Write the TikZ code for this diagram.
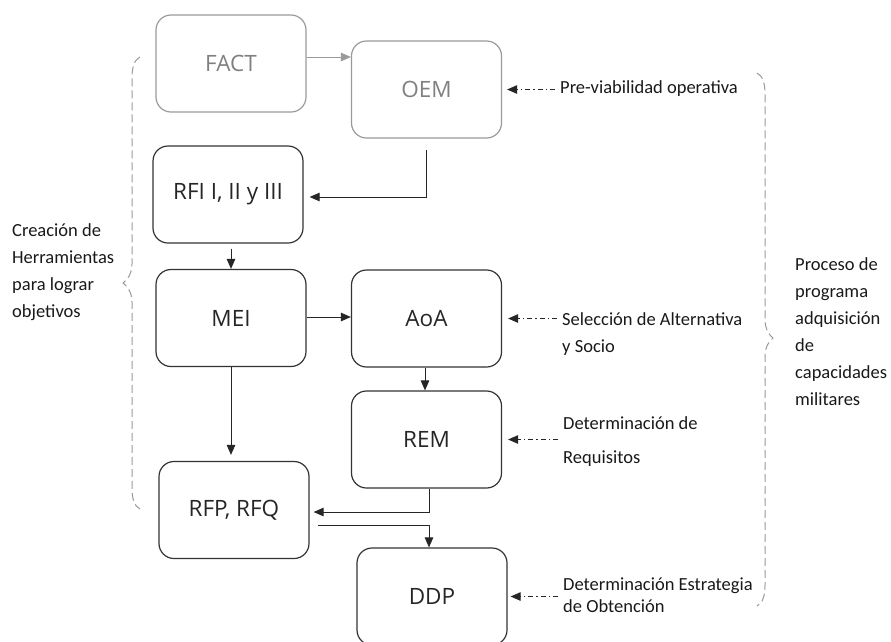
\documentclass[tikz,border=0pt]{standalone}
\usepackage{fontspec}
\setmainfont{Carlito}
\newfontfamily\boxfont{Open Sans}
\usetikzlibrary{arrows.meta}
\definecolor{softgray}{HTML}{9A9A9A}
\definecolor{labelgray}{HTML}{808080}
\definecolor{bracegray}{HTML}{999999}
\tikzset{
  stage/.style={draw=black!80, line width=1.2pt, rounded corners=15pt,
    minimum width=150pt, minimum height=97pt, inner sep=0pt,
    font=\boxfont\fontsize{22.5}{26}\selectfont, text=black!85},
  faded/.style={stage, draw=softgray, text=labelgray},
  flow/.style={line width=1pt, draw=black!85,
    -{Triangle[length=10pt,width=8.5pt]}},
  fadedflow/.style={flow, draw=softgray, -{Triangle[length=10pt,width=8.5pt,fill=softgray]}},
  note/.style={font=\fontsize{18.5}{27}\selectfont, align=left, inner sep=2pt,
    anchor=base west, text=black!90},
  pointer/.style={line width=0.9pt, draw=black!85,
    dash pattern=on 5pt off 3pt on 1.5pt off 3pt,
    -{Triangle[length=10pt,width=8.5pt]}},
  brace/.style={draw=bracegray, line width=1pt, dash pattern=on 8pt off 4pt}
}
\begin{document}
\begin{tikzpicture}[x=1pt, y=-1pt]
\useasboundingbox (0,0) rectangle (891,641);

% process stages
\node[faded] (FACT) at (231,63.5) {FACT};
\node[faded] (OEM)  at (426.5,89.5) {OEM};
\node[stage] (RFI)  at (228,194.5) {RFI I, II y III};
\node[stage] (MEI)  at (231,318) {MEI};
\node[stage] (AoA)  at (426.5,318.5) {AoA};
\node[stage] (REM)  at (426.5,439.5) {REM};
\node[stage] (RFP)  at (234,510) {RFP, RFQ};
\node[stage] (DDP)  at (432,596.5) {DDP};

% flow between stages
\draw[fadedflow] ([yshift=6.5pt]FACT.east) -- ([yshift=6.5pt]FACT.east -| OEM.west);
\draw[flow] ([yshift=-11pt]OEM.south) |- ([xshift=6pt,yshift=-2.5pt]RFI.east);
\draw[flow] ([yshift=-5pt]RFI.south -| MEI.north) -- (MEI.north);
\draw[flow] ([yshift=1pt]MEI.east) -- ([yshift=1pt]MEI.east -| AoA.west);
\draw[flow] ([xshift=-1.5pt]AoA.south) -- ([xshift=-1.5pt]REM.north);
\draw[flow] (MEI.south) -- ([yshift=6pt]MEI.south |- RFP.north);
\draw[flow] ([xshift=3pt]REM.south) |- ([xshift=4pt,yshift=-2pt]RFP.east);
\draw[flow] ([xshift=8pt,yshift=-15pt]RFP.east) -| ([xshift=-3pt]DDP.north);

% stage annotations (anchored on the baseline of their last line)
\node[note] (nOEM) at (558,93) {Pre-viabilidad operativa};
\node[note] (nAoA) at (560,352) {Selección de Alternativa\\y Socio};
\node[note] (nREM) at (561,463) {Determinación de\\[7pt]Requisitos};
\node[note, font=\fontsize{18.5}{22}\selectfont] (nDDP) at (561,612) {Determinación Estrategia\\de Obtención};

\draw[pointer] ([xshift=-3pt]nOEM.west |- OEM.east) -- ([xshift=5pt]OEM.east);
\draw[pointer] ([xshift=-3pt]nAoA.west |- AoA.east) -- ([xshift=6pt]AoA.east);
\draw[pointer] ([xshift=-3pt]nREM.west |- REM.east) -- ([xshift=6pt]REM.east);
\draw[pointer] ([xshift=-3pt]nDDP.west |- DDP.east) -- ([xshift=3pt]DDP.east);

% grouping braces
\draw[brace] (140,57) .. controls (134,60) and (132,68) .. (132,78)
  -- (132,264) .. controls (132,274) and (127,280) .. (123,283)
  .. controls (127,286) and (132,292) .. (132,302)
  -- (132,488) .. controls (132,498) and (134,506) .. (140,509);
\draw[brace] (757,73) .. controls (763,76) and (765,84) .. (765,94)
  -- (765,319) .. controls (765,329) and (769,335) .. (773,338)
  .. controls (769,341) and (765,347) .. (765,357)
  -- (765,585) .. controls (765,595) and (763,603) .. (757,606);

\node[note] (left) at (10,317) {Creación de\\Herramientas\\para lograr\\objetivos};
\node[note] (right) at (793,405) {Proceso de\\programa\\adquisición\\de\\capacidades\\militares};
\end{tikzpicture}
\end{document}
